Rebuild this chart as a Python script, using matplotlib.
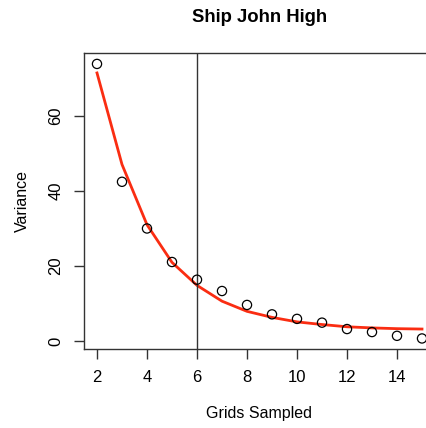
import matplotlib
matplotlib.use('Agg')
import matplotlib.pyplot as plt

plt.rcParams['font.family'] = ['Liberation Sans', 'DejaVu Sans']

# observed variance per number of grids sampled
grids = [2, 3, 4, 5, 6, 7, 8, 9, 10, 11, 12, 13, 14, 15]
variance = [73.7, 42.4, 30.0, 21.1, 16.4, 13.4, 9.7, 7.2, 6.0, 5.0, 3.3, 2.5, 1.5, 0.8]
# fitted curve
fitted = [71.3, 47.0, 31.0, 21.0, 14.9, 10.7, 8.0, 6.4, 5.2, 4.5, 3.9, 3.6, 3.4, 3.3]
cutoff = 6

fig = plt.figure(figsize=(4.27, 4.28), dpi=100)
ax = fig.add_axes([84 / 427, 79 / 428, 351 / 427, 296 / 428])

ax.scatter(grids, variance, s=44, facecolors='none', edgecolors='black', linewidths=0.9, zorder=3)
ax.plot(grids, fitted, color='#fa2d12', linewidth=2, zorder=2)
ax.axvline(cutoff, color='#333333', linewidth=1)

ax.set_xlim(1.48, 15.52)
ax.set_ylim(-2.0, 76.6)
ax.set_xticks([2, 4, 6, 8, 10, 12, 14])
ax.set_yticks([0, 20, 40, 60])
ax.set_yticklabels(['0', '20', '40', '60'], rotation=90, va='center')

for s in ax.spines.values():
    s.set_color('#333333')
    s.set_linewidth(1)
ax.tick_params(length=7, width=1, color='#333333', labelsize=12, pad=8)

ax.set_xlabel('Grids Sampled', fontsize=11.5, labelpad=15)
ax.set_ylabel('Variance', fontsize=11.5, labelpad=13)
fig.text(260 / 427, 1 - 18 / 428, 'Ship John High', ha='center', va='center',
         fontsize=13.3, fontweight='bold')

fig.savefig('out.png', dpi=100)
plt.close(fig)
